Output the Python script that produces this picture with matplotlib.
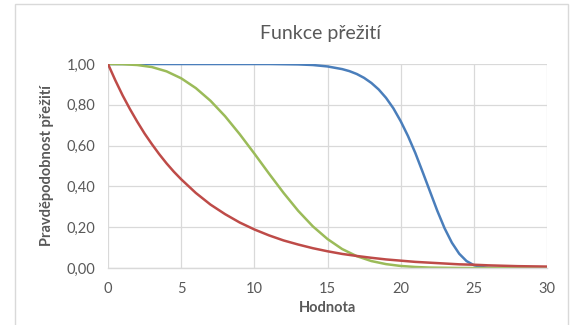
import matplotlib
matplotlib.use('Agg')
import matplotlib.pyplot as plt
from matplotlib import ticker
from matplotlib.patches import Rectangle

plt.rcParams['font.family'] = ['Lato', 'DejaVu Sans']

# survival curves, values read at integer steps
x_int = list(range(0, 31))
green = [1.000, 0.999, 0.995, 0.985, 0.964, 0.930, 0.882, 0.820, 0.744, 0.656,
         0.561, 0.463, 0.368, 0.280, 0.204, 0.142, 0.093, 0.058, 0.034, 0.019,
         0.010, 0.005, 0.002, 0.001, 0.000, 0.000, 0.000, 0.000, 0.000, 0.000,
         0.000]

# red is read at half steps near the start where it bends most
x_red = [0, 0.5, 1, 1.5, 2, 2.5, 3, 3.5, 4, 4.5, 5, 6, 7, 8, 9, 10, 11, 12, 13,
         14, 15, 16, 17, 18, 19, 20, 21, 22, 23, 24, 25, 26, 27, 28, 29, 30]
red = [1.000, 0.920, 0.846, 0.779, 0.717, 0.659, 0.607, 0.558, 0.513, 0.472,
       0.435, 0.368, 0.311, 0.264, 0.223, 0.189, 0.160, 0.135, 0.115, 0.097,
       0.082, 0.069, 0.059, 0.050, 0.042, 0.036, 0.030, 0.026, 0.022, 0.018,
       0.016, 0.013, 0.011, 0.009, 0.008, 0.007]

# blue drops steeply, so it is read at half steps in that range
x_blue = [0, 2, 4, 6, 8, 10, 11, 12, 13, 14, 15, 16, 16.5, 17, 17.5, 18, 18.5,
          19, 19.5, 20, 20.5, 21, 21.5, 22, 22.5, 23, 23.5, 24, 24.5, 25, 25.5,
          26, 27, 28, 29, 30]
blue = [1.000, 1.000, 1.000, 1.000, 1.000, 1.000, 1.000, 0.999, 0.998, 0.995,
        0.988, 0.975, 0.965, 0.951, 0.932, 0.907, 0.875, 0.834, 0.783, 0.720,
        0.647, 0.564, 0.471, 0.376, 0.281, 0.195, 0.124, 0.070, 0.034, 0.014,
        0.005, 0.001, 0.000, 0.000, 0.000, 0.000]

txt = '#595959'
grid = '#d9d9d9'

fig = plt.figure(figsize=(5.76, 3.25), dpi=100)
ax = fig.add_axes([108 / 576, 1 - 268 / 325, 439 / 576, 204 / 325])

ax.plot(x_blue, blue, color='#4a7ebb', lw=1.8, solid_capstyle='round')
ax.plot(x_int, green, color='#9bbb59', lw=1.8, solid_capstyle='round')
ax.plot(x_red, red, color='#be4b48', lw=1.8, solid_capstyle='round')

ax.set_xlim(0, 30)
ax.set_ylim(0, 1)
ax.set_xticks(range(0, 31, 5))
ax.set_yticks([0, 0.2, 0.4, 0.6, 0.8, 1.0])
ax.yaxis.set_major_formatter(ticker.FuncFormatter(lambda v, p: f'{v:.2f}'.replace('.', ',')))
ax.grid(True, color=grid, lw=0.9)
ax.set_axisbelow(True)
for s in ['top', 'right', 'left']:
    ax.spines[s].set_visible(False)
ax.spines['bottom'].set_color(grid)
ax.spines['bottom'].set_linewidth(1.0)
ax.tick_params(length=0, colors=txt, labelsize=10.5)
ax.tick_params(axis='y', pad=9)
ax.tick_params(axis='x', pad=10)

ax.set_xlabel('Hodnota', color=txt, fontsize=10.5, fontweight='bold', labelpad=4)
ax.set_ylabel('Pravděpodobnost přežití', color=txt, fontsize=10.5, fontweight='bold', labelpad=9)
fig.text(320 / 576, 1 - 33 / 325, 'Funkce přežití', ha='center', va='center',
         color=txt, fontsize=14)

# chart frame
fig.patches.append(Rectangle((15 / 576, -0.01), 553 / 576, 1 - 4 / 325 + 0.01,
                             transform=fig.transFigure, fill=False, ec=grid, lw=1.0))

fig.savefig('out.png', dpi=100)
